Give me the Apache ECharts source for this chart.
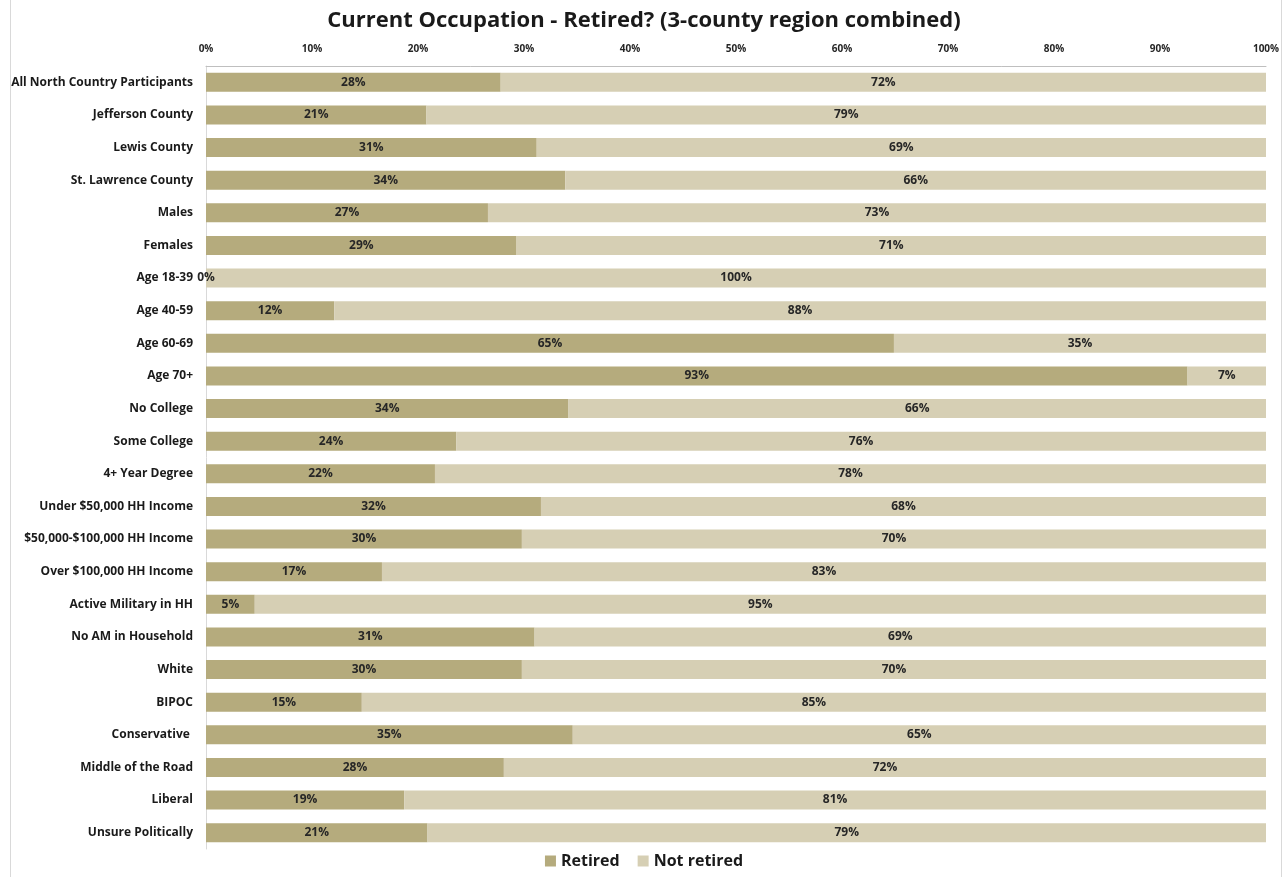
<!DOCTYPE html>
<html>
<head>
    <meta charset="utf-8"/>
    <title>Current Occupation - Retired?</title>
    <style>
        html, body { margin: 0; padding: 0; background: #fff; }
        #frame {
            position: absolute; left: 10px; top: -2px; width: 1272px; height: 885px;
            border: 1px solid #d9d9d9; box-sizing: border-box;
        }
        #chart { width: 1288px; height: 877px; }
    </style>
</head>
<body>
<div id="frame"></div>
<div id="chart"></div>
<script src="https://cdn.jsdelivr.net/npm/echarts@6/dist/echarts.min.js"></script>
<script>
    // 分组
    var categories = [
        'All North Country Participants', 'Jefferson County', 'Lewis County', 'St. Lawrence County',
        'Males', 'Females', 'Age 18-39', 'Age 40-59', 'Age 60-69', 'Age 70+',
        'No College', 'Some College', '4+ Year Degree', 'Under $50,000 HH Income',
        '$50,000-$100,000 HH Income', 'Over $100,000 HH Income', 'Active Military in HH',
        'No AM in Household', 'White', 'BIPOC', 'Conservative ', 'Middle of the Road',
        'Liberal', 'Unsure Politically'
    ];
    var retired = [27.8, 20.8, 31.2, 33.9, 26.6, 29.3, 0, 12.1, 64.9, 92.6,
        34.2, 23.6, 21.6, 31.6, 29.8, 16.6, 4.6, 31.0, 29.8, 14.7, 34.6, 28.1, 18.7, 20.9];
    var notRetired = [72.2, 79.2, 68.8, 66.1, 73.4, 70.7, 100, 87.9, 35.1, 7.4,
        65.8, 76.4, 78.4, 68.4, 70.2, 83.4, 95.4, 69.0, 70.2, 85.3, 65.4, 71.9, 81.3, 79.1];
    var xTicks = [0, 10, 20, 30, 40, 50, 60, 70, 80, 90, 100];

    var font = '"Open Sans", "Noto Sans", sans-serif';
    var labelStyle = {
        show: true,
        position: 'inside',
        color: '#262626',
        fontFamily: font,
        fontWeight: 'bold',
        fontSize: 12,
        formatter: function (p) { return Math.round(p.value) + '%'; }
    };

    var option = {
        animation: false,
        title: {
            text: 'Current Occupation - Retired? (3-county region combined)',
            left: 'center',
            top: 5,
            textStyle: { fontFamily: font, fontWeight: 'bold', fontSize: 22, color: '#1a1a1a' }
        },
        legend: {
            bottom: 3,
            left: 'center',
            itemWidth: 11,
            itemHeight: 11,
            itemGap: 18,
            icon: 'rect',
            textStyle: { fontFamily: font, fontWeight: 'bold', fontSize: 16, color: '#1a1a1a' },
            data: ['Retired', 'Not retired']
        },
        grid: { left: 206, right: 22, top: 66, bottom: 28 },
        xAxis: {
            type: 'value',
            position: 'top',
            min: xTicks[0],
            max: xTicks[xTicks.length - 1],
            interval: 10,
            axisLine: { show: true, lineStyle: { color: '#bfbfbf' } },
            axisTick: { show: false },
            splitLine: { show: false },
            axisLabel: {
                fontFamily: font, fontWeight: 'bold', fontSize: 10, color: '#262626', margin: 12,
                formatter: function (v) { return v + '%'; }
            }
        },
        yAxis: {
            type: 'category',
            inverse: true,
            data: categories,
            axisLine: { show: true, lineStyle: { color: '#d9d9d9' } },
            axisTick: { show: false },
            axisLabel: { fontFamily: font, fontWeight: 'bold', fontSize: 12, color: '#1a1a1a', margin: 13 }
        },
        series: [
            {
                name: 'Retired',
                type: 'bar',
                stack: 'total',
                barWidth: '58%',
                itemStyle: { color: '#b5ab7d' },
                label: labelStyle,
                data: retired
            },
            {
                name: 'Not retired',
                type: 'bar',
                stack: 'total',
                barWidth: '58%',
                itemStyle: { color: '#d6cfb4' },
                label: labelStyle,
                data: notRetired
            }
        ]
    };

    var myChart = echarts.init(document.getElementById('chart'));
    myChart.setOption(option);
</script>
</body>
</html>
